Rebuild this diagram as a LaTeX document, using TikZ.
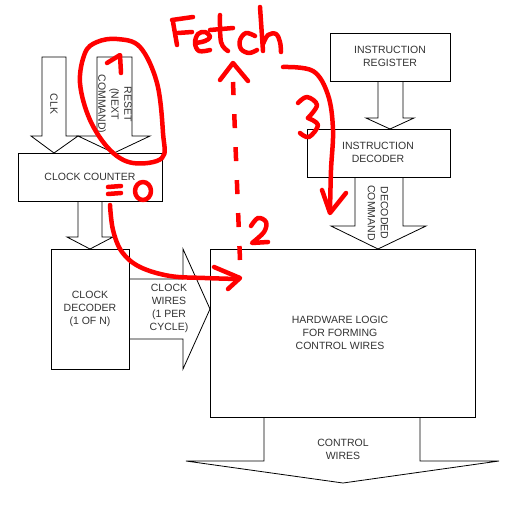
\documentclass[tikz,border=0pt]{standalone}
\usepackage{fontspec}
\setmainfont{Liberation Sans}
\begin{document}
\begin{tikzpicture}[x=1pt,y=-1pt,
  box/.style={draw, line width=0.8pt, fill=white, inner sep=0pt},
  lbl/.style={font=\fontsize{10.5}{13}\selectfont, text=black!80, align=center, inner sep=0pt},
  barrow/.style={draw, line width=0.8pt, fill=white, line join=miter},
  redpen/.style={draw=red, line width=4.5pt, line cap=round, line join=round}]
\useasboundingbox (0,0) rectangle (524,509);
% block arrows
\draw[barrow] (42,57) -- (66,57) -- (66,136) -- (78,136) -- (54,153) -- (31,136) -- (42,136) -- cycle;
\node[lbl, rotate=-90] (clk) at (54,104) {CLK};
\draw[barrow] (97,57) -- (132,57) -- (132,136) -- (150,136) -- (114,153) -- (78,136) -- (97,136) -- cycle;
\node[lbl, rotate=-90] (rst) at (114,104) {RESET\\(NEXT\\COMMAND)};
\draw[barrow] (78,201) -- (78,237) -- (67,237) -- (90,249) -- (113,237) -- (102,237) -- (102,201);
\draw[barrow] (129,279) -- (183,279) -- (183,249) -- (210,309) -- (183,369) -- (183,339) -- (129,339);
\draw[barrow] (378,81) -- (378,118) -- (366,118) -- (390,129) -- (414,118) -- (403,118) -- (403,81);
\draw[barrow] (355,177) -- (355,226) -- (331,226) -- (378,249) -- (426,226) -- (403,226) -- (403,177);
\draw[barrow] (264,417) -- (264,461) -- (186,461) -- (343,483) -- (499,461) -- (420,461) -- (420,417);
% boxes
\node[box, minimum width=144pt, minimum height=48pt, lbl] (cc) at (90,177) {CLOCK COUNTER};
\node[box, minimum width=78pt, minimum height=120pt] (cd) at (90,309) {};
\node[lbl] (cdt) at (90,309) {CLOCK\\DECODER\\(1 OF N)};
\node[box, minimum width=265pt, minimum height=168pt] (hw) at (342.5,333) {};
\node[lbl] (hwt) at (340,333) {HARDWARE LOGIC\\FOR FORMING\\CONTROL WIRES};
\node[box, minimum width=120pt, minimum height=48pt] (ir) at (390,57) {};
\node[lbl] (irt) at (390,56) {INSTRUCTION\\REGISTER};
\node[box, minimum width=143pt, minimum height=48pt] (id) at (378.5,153) {};
\node[lbl] (idt) at (378,152) {INSTRUCTION\\DECODER};
% arrow labels
\node[lbl] (cw) at (169,308) {CLOCK\\WIRES\\(1 PER\\CYCLE)};
\node[lbl, rotate=-90] (dc) at (378,213) {DECODED\\COMMAND};
\node[lbl] (ctw) at (343,449) {CONTROL\\WIRES};
% red annotations
% Fetch
\draw[redpen] (173,22) -- (177,45);
\draw[redpen] (172,20) -- (193,17);
\draw[redpen] (178,33) -- (192,32);
\draw[redpen] plot[smooth, tension=0.6] coordinates {(196,43) (205,41) (210,37) (205,32) (198,34) (195,43) (199,51) (210,50)};
\draw[redpen] plot[smooth, tension=0.6] coordinates {(220,15) (221,42) (228,51)};
\draw[redpen] (210,30) -- (233,28);
\draw[redpen] plot[smooth, tension=0.6] coordinates {(255,36) (246,33) (240,40) (241,49) (249,53) (257,50)};
\draw[redpen] (260,7) -- (263,51);
\draw[redpen] plot[smooth, tension=0.6] coordinates {(263,44) (268,35) (276,34) (280,42) (281,52)};
% loop around reset and 1
\draw[redpen] plot[smooth cycle, tension=0.6] coordinates {(97,42) (117,39) (140,47) (157,83) (163,133) (162,158) (133,163) (110,150) (90,120) (80,83) (85,53)};
\draw[redpen] (107,63) -- (120,55) -- (121,73);
% =0
\draw[redpen] (108,187) -- (121,186);
\draw[redpen] (108,194) -- (121,193);
\draw[redpen] (143,191) ellipse [x radius=8pt, y radius=9pt];
% curve to hardware logic
\draw[redpen] plot[smooth, tension=0.6] coordinates {(110,205) (113,230) (122,252) (140,267) (170,276) (205,278) (238,279)};
\draw[redpen] (214,267) -- (240,278) -- (228,289);
% dashed up arrow
\draw[redpen, line cap=butt, dash pattern=on 14pt off 19pt] (240,260) -- (233,82);
\draw[redpen] (220,80) -- (233,63) -- (248,81);
% 2
\draw[redpen] plot[smooth, tension=0.6] coordinates {(251,226) (258,218) (266,222) (264,232) (252,243)} -- (268,242);
% 3
\draw[redpen] plot[smooth, tension=0.6] coordinates {(298,103) (307,97) (317,105) (308,118)};
\draw[redpen] plot[smooth, tension=0.6] coordinates {(308,118) (318,125) (309,137) (300,133)};
% curve down to decoder output
\draw[redpen] plot[smooth, tension=0.6] coordinates {(283,67) (313,71) (328,95) (333,130) (331,170) (330,212)};
\draw[redpen] (322,190) -- (330,213) -- (346,193);
\end{tikzpicture}
\end{document}
